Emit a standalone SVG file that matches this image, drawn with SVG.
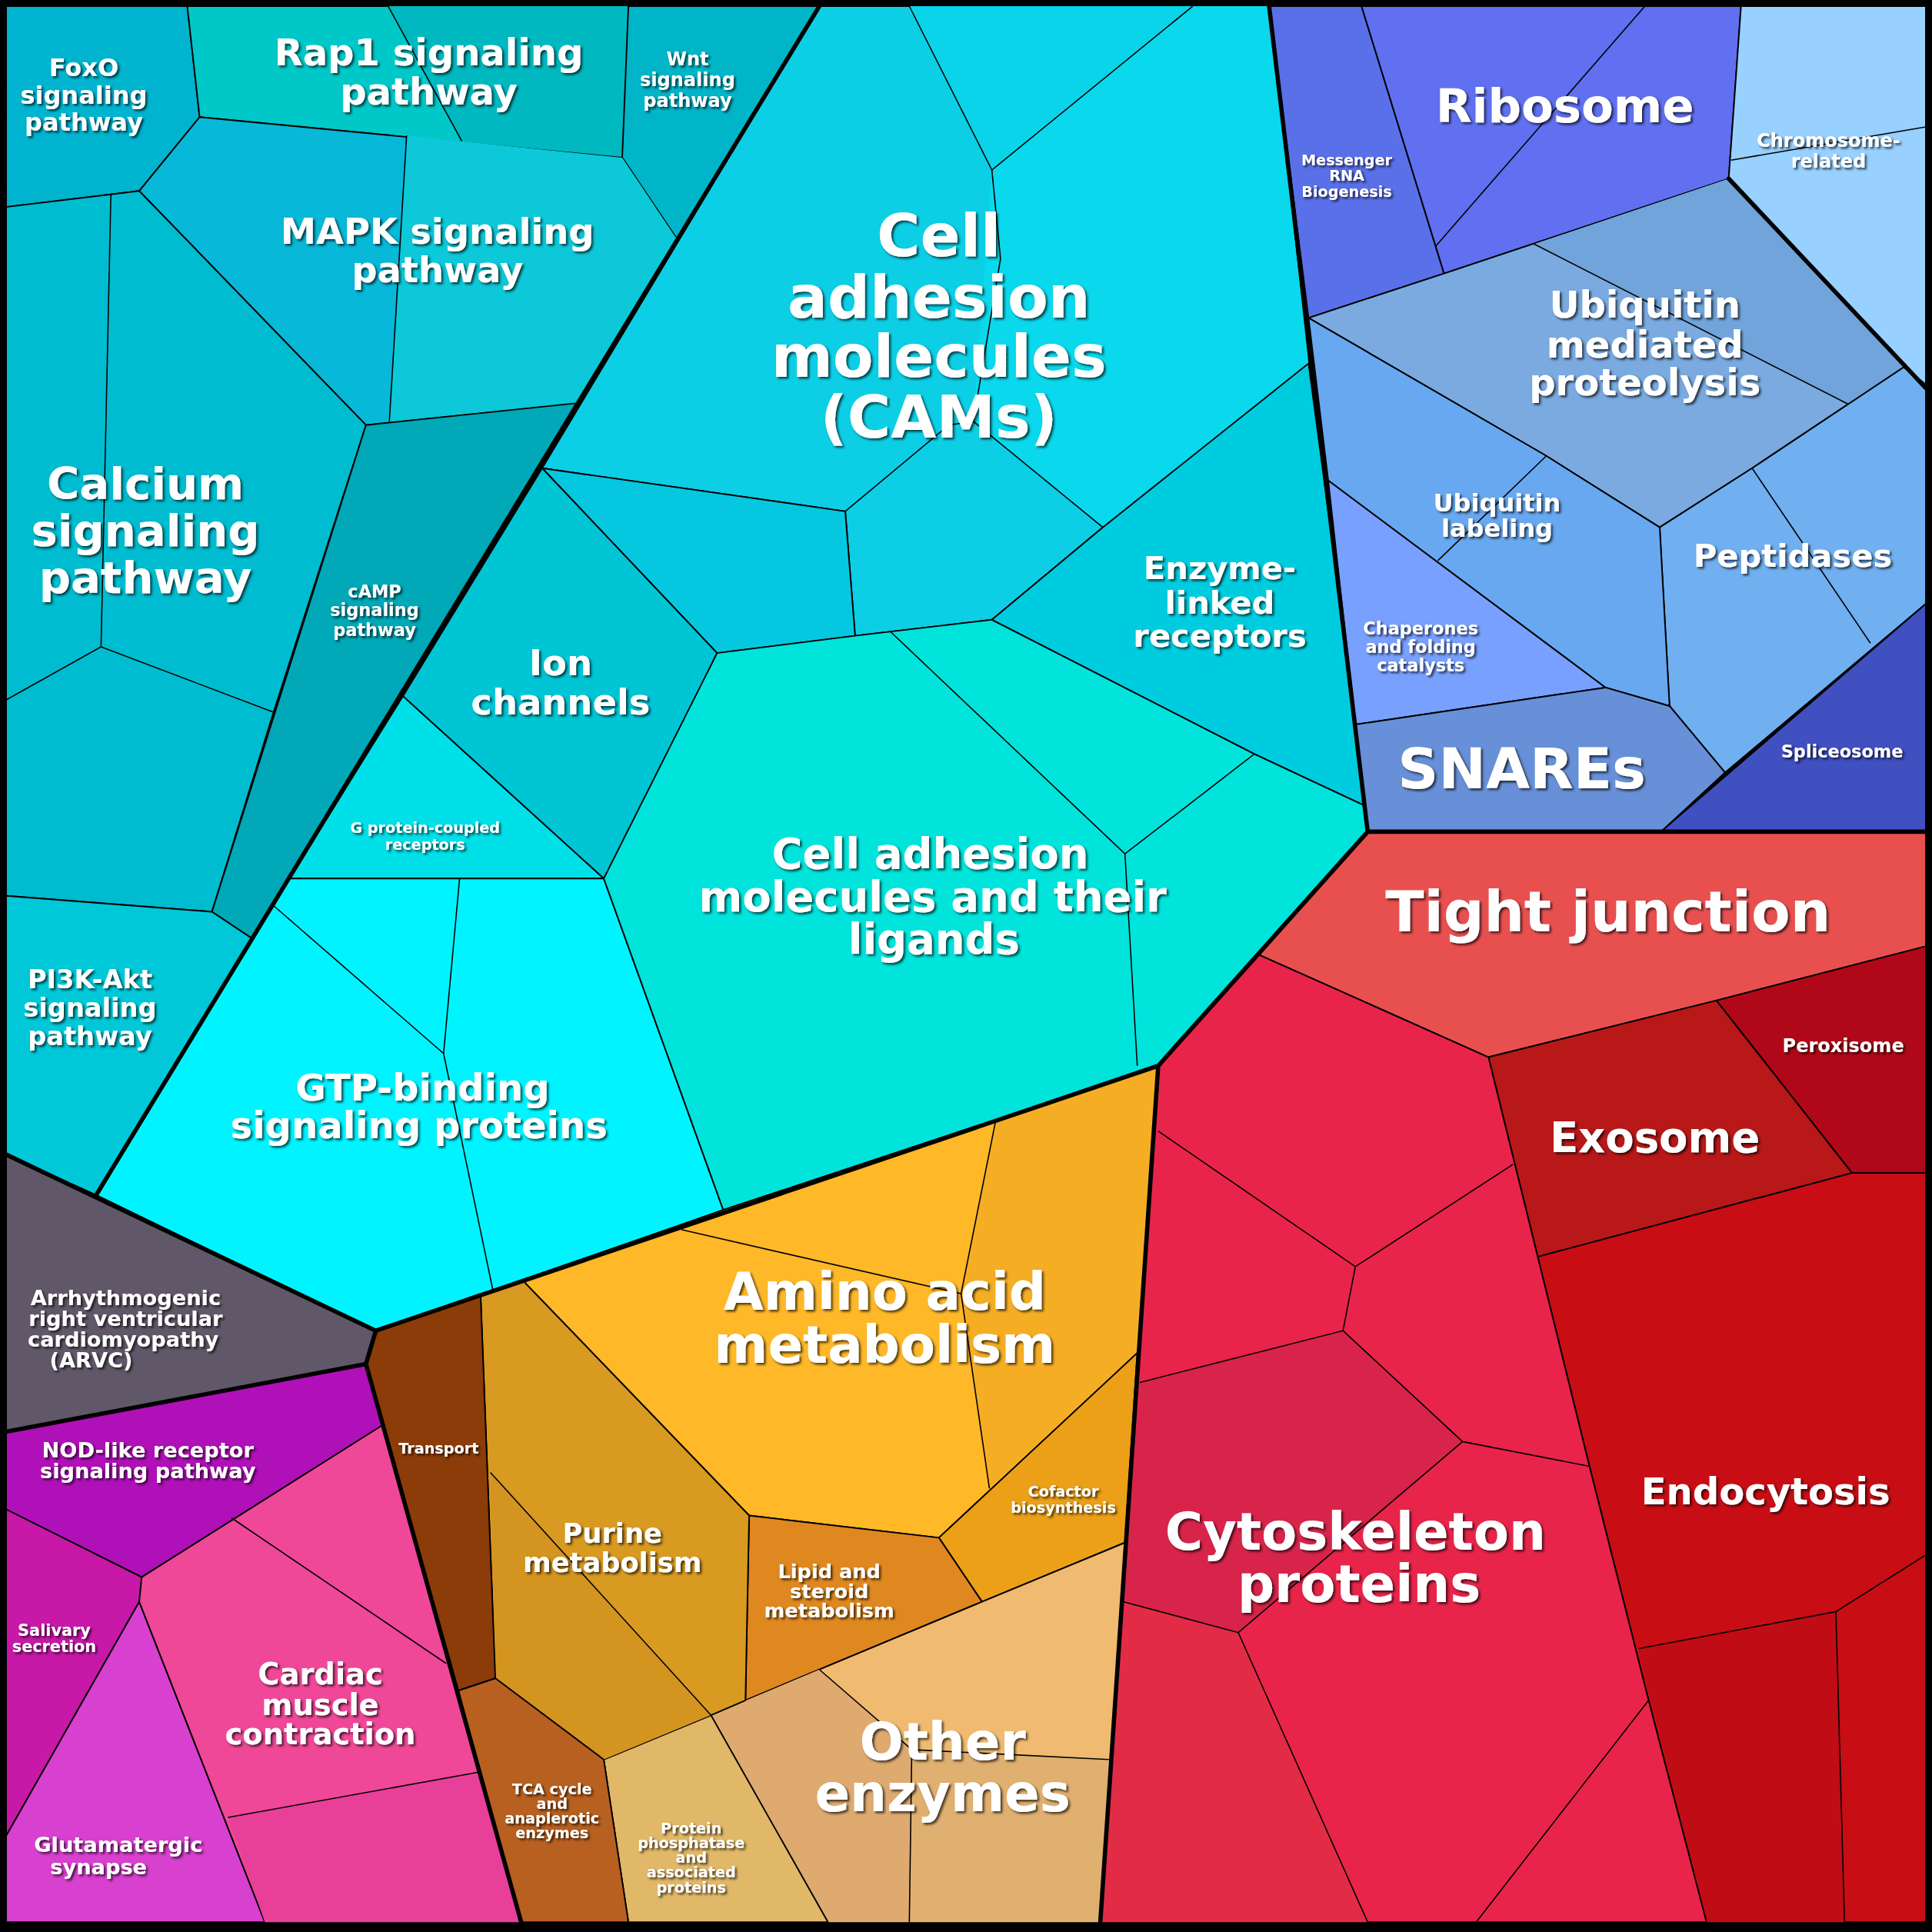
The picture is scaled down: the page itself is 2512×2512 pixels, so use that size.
<svg xmlns="http://www.w3.org/2000/svg" width="2512" height="2512" viewBox="0 0 2512 2512">
<defs>
<style>
.c{stroke:#000;stroke-width:1.2;stroke-linejoin:round}
.t{fill:none;stroke:#000;stroke-width:1}
.k{fill:none;stroke:#000;stroke-width:3.5;stroke-linejoin:round;stroke-linecap:round}
text{font-family:"DejaVu Sans",sans-serif;font-weight:bold;fill:#fff;text-anchor:middle;filter:url(#sh)}
</style>
<filter id="sh" x="-10%" y="-10%" width="120%" height="130%"><feDropShadow dx="1.5" dy="1.5" stdDeviation="1" flood-color="#000" flood-opacity="0.7"/></filter>
</defs>
<rect width="2512" height="2512" fill="#000"/>
<g transform="scale(1.60204)">
<g id="foxo"><polygon class="c" fill="#00b4d0" points="5,5 152,5 162,95 113,155 5,168"/><text font-size="20"><tspan x="68" y="62">FoxO</tspan><tspan x="68" y="84">signaling</tspan><tspan x="68" y="106">pathway</tspan></text></g>
<g id="rap1"><polygon class="c" fill="#00c8c8" points="152,5 510,5 505,128 162,95"/><polygon fill="#00b8c0" points="315,5 510,5 505,128 375,115"/><polyline class="t" points="315,5 375,115"/><text font-size="30"><tspan x="348" y="53">Rap1 signaling</tspan><tspan x="348" y="85">pathway</tspan></text></g>
<g id="wnt"><polygon class="c" fill="#00b5c8" points="510,5 665,5 550,195 505,128"/><text font-size="15"><tspan x="558" y="53">Wnt</tspan><tspan x="558" y="70">signaling</tspan><tspan x="558" y="87">pathway</tspan></text></g>
<g id="mapk"><polygon class="c" fill="#08b8d8" points="162,95 505,128 550,195 470,327 297,345 113,155"/><polygon fill="#0cc8d8" points="330,110 505,128 550,195 470,327 316,342"/><polyline class="t" points="330,110 316,342"/><text font-size="29"><tspan x="355" y="198">MAPK signaling</tspan><tspan x="355" y="229">pathway</tspan></text></g>
<g id="calcium"><polygon class="c" fill="#00bcd0" points="5,168 113,155 297,345 222,578 172,740 5,727"/><polyline class="t" points="90,158 82,525 5,568"/><polyline class="t" points="82,525 222,578"/><text font-size="36"><tspan x="118" y="405">Calcium</tspan><tspan x="118" y="443">signaling</tspan><tspan x="118" y="481">pathway</tspan></text></g>
<g id="camp"><polygon class="c" fill="#00a8b8" points="297,345 470,327 205,762 172,740"/><text font-size="14"><tspan x="304" y="485">cAMP</tspan><tspan x="304" y="500">signaling</tspan><tspan x="304" y="516">pathway</tspan></text></g>
<g id="pi3k"><polygon class="c" fill="#00c8d8" points="5,727 172,740 205,762 78,970 5,937"/><text font-size="21"><tspan x="73" y="802">PI3K-Akt</tspan><tspan x="73" y="825">signaling</tspan><tspan x="73" y="848">pathway</tspan></text></g>
<g id="cams"><polygon class="c" fill="#0ccfe6" points="665,5 1030,5 1062,295 895,428 805,503 694,516 686,415 440,380"/><polygon fill="#0ad8ec" points="805,138 968,5 1030,5 1062,295 895,428 790,342"/><polygon fill="#0ad4ea" points="738,5 968,5 805,138"/><polyline class="t" points="738,5 805,138 968,5"/><polyline class="t" points="805,138 812,210 790,342 895,428"/><polyline class="t" points="686,415 770,345 790,342"/><polygon class="c" fill="#05c8e0" points="440,380 686,415 694,516 582,530"/><text font-size="48"><tspan x="762" y="208">Cell</tspan><tspan x="762" y="258">adhesion</tspan><tspan x="762" y="306">molecules</tspan><tspan x="762" y="355">(CAMs)</tspan></text></g>
<g id="enzlinked"><polygon class="c" fill="#00cce0" points="1062,295 1110,655 1018,612 805,503 895,428"/><text font-size="26"><tspan x="990" y="470">Enzyme-</tspan><tspan x="990" y="498">linked</tspan><tspan x="990" y="525">receptors</tspan></text></g>
<g id="ion"><polygon class="c" fill="#00c5d5" points="440,380 582,530 492,715 327,565"/><text font-size="29"><tspan x="455" y="548">Ion</tspan><tspan x="455" y="580">channels</tspan></text></g>
<g id="gpcr"><polygon class="c" fill="#00e0e8" points="327,565 490,713 235,713"/><text font-size="12"><tspan x="345" y="676">G protein-coupled</tspan><tspan x="345" y="690">receptors</tspan></text></g>
<g id="gtp"><polygon class="c" fill="#00f4ff" points="235,713 490,713 587,982 305,1080 78,970"/><polyline class="t" points="373,713 360,855 400,1047"/><polyline class="t" points="222,735 360,855"/><text font-size="30"><tspan x="343" y="893">GTP-binding</tspan><tspan x="340" y="924">signaling proteins</tspan></text></g>
<g id="camlig"><polygon class="c" fill="#00e4dc" points="582,530 694,516 805,503 1018,612 1110,655 1110,675 940,865 587,982 490,713"/><polyline class="t" points="722,512 913,693 923,865"/><polyline class="t" points="913,693 1018,612"/><text font-size="34"><tspan x="755" y="705">Cell adhesion</tspan><tspan x="757" y="740">molecules and their</tspan><tspan x="758" y="774">ligands</tspan></text></g>
<g id="mrna"><polygon class="c" fill="#5a70e8" points="1030,5 1105,5 1172,222 1062,258"/><text font-size="12"><tspan x="1093" y="134">Messenger</tspan><tspan x="1093" y="147">RNA</tspan><tspan x="1093" y="160">Biogenesis</tspan></text></g>
<g id="ribosome"><polygon class="c" fill="#6070f0" points="1105,5 1413,5 1403,145 1172,222"/><polyline class="t" points="1335,5 1165,200"/><text font-size="38"><tspan x="1270" y="99">Ribosome</tspan></text></g>
<g id="chromo"><polygon class="c" fill="#98d0ff" points="1413,5 1563,5 1563,315 1403,145"/><polyline class="t" points="1405,130 1563,103"/><text font-size="15"><tspan x="1484" y="119">Chromosome-</tspan><tspan x="1484" y="136">related</tspan></text></g>
<g id="ubmed"><polygon class="c" fill="#7aaae0" points="1062,258 1172,222 1403,145 1545,298 1422,380 1347,428 1255,370"/><polygon fill="#70a4da" points="1245,198 1403,145 1545,298 1500,328"/><polyline class="t" points="1245,198 1500,328"/><text font-size="30"><tspan x="1335" y="258">Ubiquitin</tspan><tspan x="1335" y="290">mediated</tspan><tspan x="1335" y="321">proteolysis</tspan></text></g>
<g id="pept"><polygon class="c" fill="#70b0f0" points="1422,380 1545,298 1563,312 1563,490 1400,627 1355,573 1347,428"/><polyline class="t" points="1422,380 1518,522"/><text font-size="26"><tspan x="1455" y="460">Peptidases</tspan></text></g>
<g id="splice"><polygon class="c" fill="#4050c0" points="1563,490 1563,675 1348,675"/><text font-size="14"><tspan x="1495" y="615">Spliceosome</tspan></text></g>
<g id="ublab"><polygon class="c" fill="#68a8f0" points="1062,258 1255,370 1347,428 1355,573 1303,558 1078,390"/><polyline class="t" points="1167,455 1255,370"/><text font-size="20"><tspan x="1215" y="415">Ubiquitin</tspan><tspan x="1215" y="436">labeling</tspan></text></g>
<g id="chap"><polygon class="c" fill="#78a0ff" points="1078,390 1303,558 1100,588"/><text font-size="14"><tspan x="1153" y="515">Chaperones</tspan><tspan x="1153" y="530">and folding</tspan><tspan x="1153" y="545">catalysts</tspan></text></g>
<g id="snares"><polygon class="c" fill="#6890d8" points="1100,588 1303,558 1355,573 1400,627 1348,675 1110,675"/><text font-size="46"><tspan x="1235" y="640">SNAREs</tspan></text></g>
<g id="tight"><polygon class="c" fill="#e85050" points="1110,675 1563,675 1563,768 1393,812 1208,858 1022,775"/><text font-size="46"><tspan x="1305" y="756">Tight junction</tspan></text></g>
<g id="perox"><polygon class="c" fill="#b00818" points="1393,812 1563,768 1563,952 1503,952"/><text font-size="15"><tspan x="1496" y="854">Peroxisome</tspan></text></g>
<g id="exosome"><polygon class="c" fill="#b81818" points="1208,858 1393,812 1503,952 1248,1020"/><text font-size="34"><tspan x="1343" y="935">Exosome</tspan></text></g>
<g id="endo"><polygon class="c" fill="#c80d15" points="1248,1020 1503,952 1563,952 1563,1560 1385,1560 1338,1380 1290,1190"/><polygon fill="#c00c14" points="1330,1338 1490,1308 1497,1560 1385,1560"/><polyline class="t" points="1330,1338 1490,1308 1563,1262"/><polyline class="t" points="1490,1308 1497,1560"/><text font-size="30"><tspan x="1433" y="1221">Endocytosis</tspan></text></g>
<g id="cyto"><polygon class="c" fill="#e8244a" points="1022,775 1208,858 1248,1020 1290,1190 1338,1380 1385,1560 893,1560 940,865"/><polygon fill="#d8244a" points="925,1122 1090,1080 1187,1170 1005,1325 912,1300"/><polygon fill="#e22c46" points="912,1300 1005,1325 1110,1560 893,1560"/><polyline class="t" points="940,918 1100,1028 1228,945"/><polyline class="t" points="1100,1028 1090,1080 925,1122"/><polyline class="t" points="1090,1080 1187,1170 1290,1190"/><polyline class="t" points="1187,1170 1005,1325 912,1300"/><polyline class="t" points="1005,1325 1110,1560"/><polyline class="t" points="1338,1380 1198,1560"/><text font-size="42"><tspan x="1100" y="1258">Cytoskeleton</tspan><tspan x="1103" y="1300">proteins</tspan></text></g>
<g id="amino"><polygon class="c" fill="#ffb828" points="940,865 923,1098 762,1248 608,1230 425,1040 587,982"/><polygon fill="#f5ae24" points="808,910 940,865 923,1098 803,1208 780,1050"/><polyline class="t" points="553,998 780,1050 808,910"/><polyline class="t" points="780,1050 803,1208"/><text font-size="42"><tspan x="718" y="1063">Amino acid</tspan><tspan x="718" y="1106">metabolism</tspan></text></g>
<g id="cofactor"><polygon class="c" fill="#eba018" points="923,1098 913,1252 797,1300 762,1248"/><text font-size="12"><tspan x="863" y="1215">Cofactor</tspan><tspan x="863" y="1228">biosynthesis</tspan></text></g>
<g id="lipid"><polygon class="c" fill="#e08820" points="608,1230 762,1248 797,1300 605,1380"/><text font-size="16"><tspan x="673" y="1281">Lipid and</tspan><tspan x="673" y="1297">steroid</tspan><tspan x="673" y="1313">metabolism</tspan></text></g>
<g id="other"><polygon class="c" fill="#f0bb70" points="913,1252 893,1560 510,1560 490,1428 577,1392 605,1380 797,1300"/><polygon fill="#deaa70" points="577,1392 665,1355 740,1420 738,1560 672,1560"/><polygon fill="#e0b070" points="740,1420 900,1428 893,1560 738,1560"/><polyline class="t" points="665,1355 740,1420 900,1428"/><polyline class="t" points="740,1420 738,1560"/><text font-size="42"><tspan x="765" y="1428">Other</tspan><tspan x="765" y="1470">enzymes</tspan></text></g>
<g id="phosph"><polygon class="c" fill="#e0b868" points="490,1428 577,1392 672,1560 510,1560"/><text font-size="12"><tspan x="561" y="1488">Protein</tspan><tspan x="561" y="1500">phosphatase</tspan><tspan x="561" y="1512">and</tspan><tspan x="561" y="1524">associated</tspan><tspan x="561" y="1536">proteins</tspan></text></g>
<g id="purine"><polygon class="c" fill="#d89a20" points="425,1040 608,1230 605,1380 577,1392 490,1428 402,1362 390,1050"/><polygon fill="#d49420" points="398,1195 577,1392 490,1428 402,1362"/><polyline class="t" points="398,1195 577,1392"/><text font-size="22"><tspan x="497" y="1252">Purine</tspan><tspan x="497" y="1276">metabolism</tspan></text></g>
<g id="tca"><polygon class="c" fill="#b86020" points="402,1362 490,1428 510,1560 423,1560 372,1372"/><text font-size="12"><tspan x="448" y="1456">TCA cycle</tspan><tspan x="448" y="1468">and</tspan><tspan x="448" y="1480">anaplerotic</tspan><tspan x="448" y="1492">enzymes</tspan></text></g>
<g id="transport"><polygon class="c" fill="#8c3c08" points="305,1080 390,1050 402,1362 372,1372 297,1107"/><text font-size="12"><tspan x="356" y="1180">Transport</tspan></text></g>
<g id="arvc"><polygon class="c" fill="#605868" points="5,937 78,970 305,1080 297,1107 5,1162"/><text font-size="17"><tspan x="102" y="1059">Arrhythmogenic</tspan><tspan x="102" y="1076">right ventricular</tspan><tspan x="100" y="1093">cardiomyopathy</tspan><tspan x="74" y="1110">(ARVC)</tspan></text></g>
<g id="nod"><polygon class="c" fill="#b010b8" points="5,1162 297,1107 310,1157 115,1280 5,1225"/><text font-size="17"><tspan x="120" y="1183">NOD-like receptor</tspan><tspan x="120" y="1200">signaling pathway</tspan></text></g>
<g id="saliv"><polygon class="c" fill="#c818a8" points="5,1225 115,1280 113,1300 5,1490"/><text font-size="13"><tspan x="44" y="1328">Salivary</tspan><tspan x="44" y="1341">secretion</tspan></text></g>
<g id="gluta"><polygon class="c" fill="#d840d0" points="5,1490 113,1300 215,1560 5,1560"/><text font-size="17"><tspan x="96" y="1503">Glutamatergic</tspan><tspan x="80" y="1521">synapse</tspan></text></g>
<g id="cardiac"><polygon class="c" fill="#f04898" points="115,1280 310,1157 423,1560 215,1560 113,1300"/><polygon fill="#e84098" points="185,1475 390,1438 423,1560 215,1560"/><polyline class="t" points="188,1232 362,1350"/><polyline class="t" points="185,1475 390,1438"/><text font-size="24"><tspan x="260" y="1367">Cardiac</tspan><tspan x="260" y="1392">muscle</tspan><tspan x="260" y="1416">contraction</tspan></text></g>
<g id="connectors">
<polyline class="k" points="665,5 78,970"/>
<polyline class="k" points="5,937 305,1080 940,865 1110,675 1030,5"/>
<polyline class="k" points="1110,675 1563,675"/>
<polyline class="k" points="940,865 893,1560"/>
<polyline class="k" points="305,1080 297,1107 423,1560"/>
<polyline class="k" points="5,1162 297,1107"/>
<polyline class="k" points="1403,145 1563,315"/>
<rect x="3" y="3" width="1562" height="1562" class="k" stroke-width="6"/>
</g>
</g>
</svg>
